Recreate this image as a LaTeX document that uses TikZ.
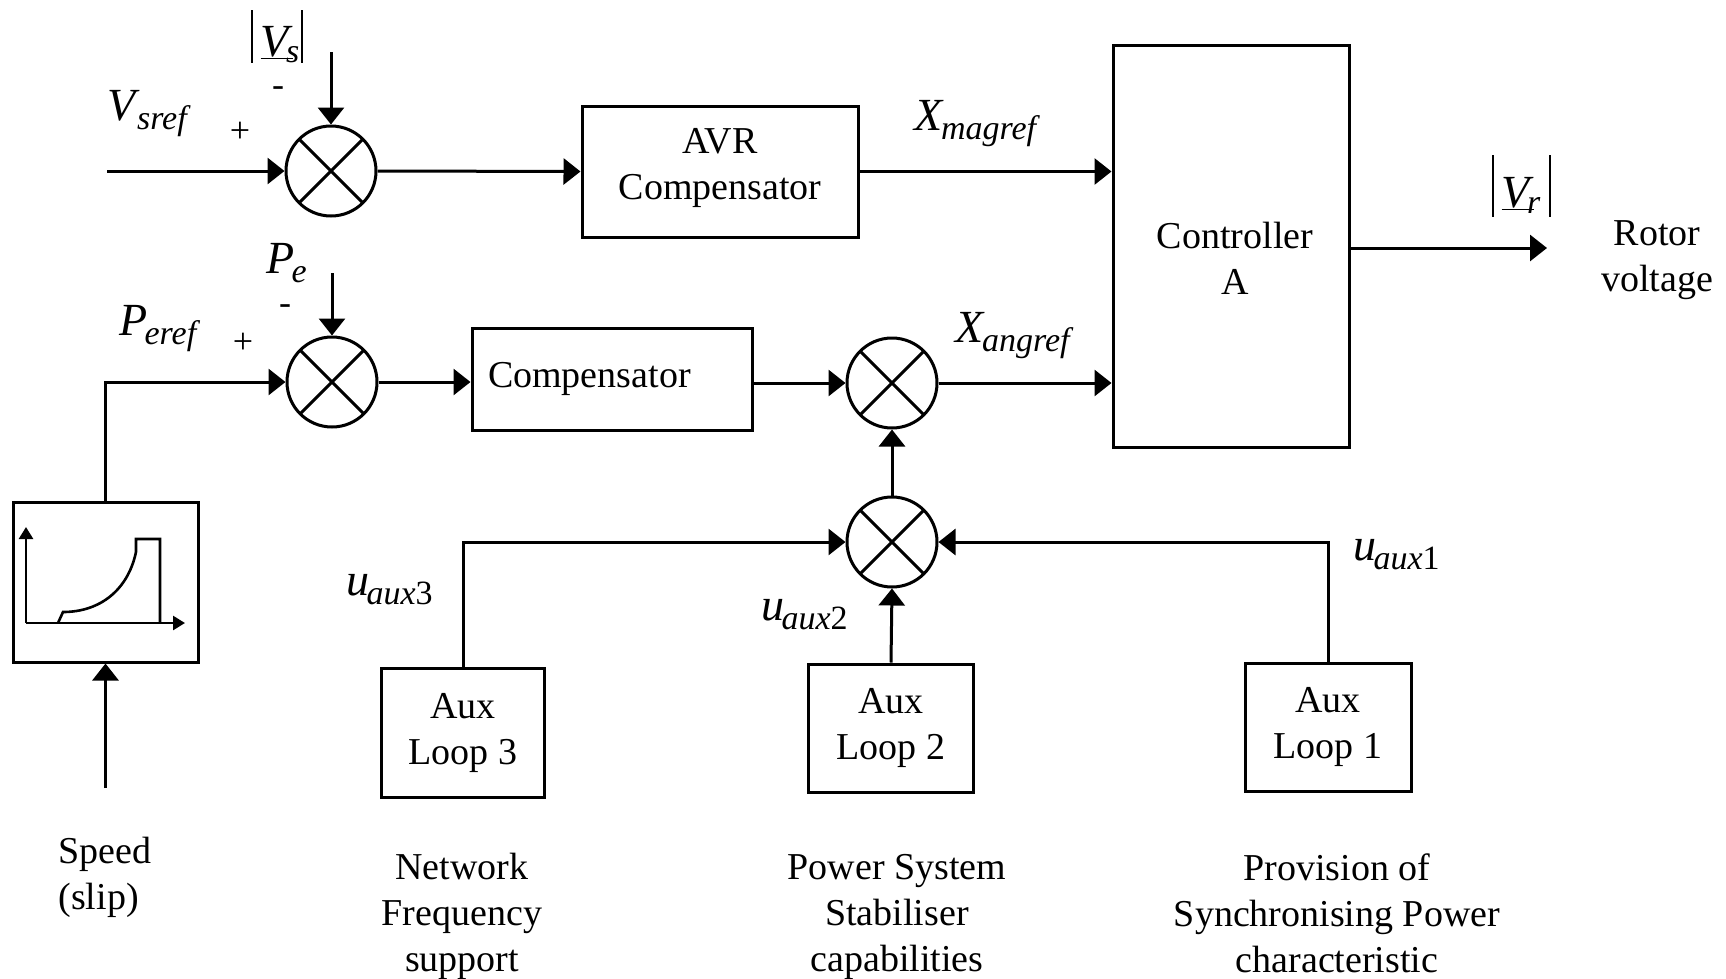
\documentclass[tikz,border=0pt]{standalone}
\usepackage{fontspec}
\setmainfont{Liberation Serif}
\usetikzlibrary{arrows.meta}
\newcommand{\sbs}[2]{{\fontsize{46}{50}\selectfont\textit{#1}}\kern-3pt\raisebox{-9pt}{\fontsize{34}{36}\selectfont\textit{#2}}}
\newcommand{\usbs}[2]{{\fontsize{46}{50}\selectfont\underline{\textit{#1}}}\kern-7pt\raisebox{-6pt}{\fontsize{34}{36}\selectfont\textit{#2}}}
\begin{document}
\begin{tikzpicture}[x=1pt,y=-1pt,
  line width=3pt,
  arr/.style={-{Triangle[length=17pt,width=26pt]}},
  axarr/.style={line width=2.6pt,-{Triangle[length=12pt,width=14pt]}},
  box/.style={draw, line width=3pt, font=\fontsize{38}{46}\selectfont, align=center, inner sep=0pt},
  txt/.style={font=\fontsize{38}{46}\selectfont, inner sep=0pt},
  sign/.style={font=\fontsize{36}{40}\selectfont, inner sep=0pt},
  lab/.style={anchor=base west, inner sep=0pt},
  bar/.style={line width=2.2pt},
  sum/.style={circle, draw, line width=3pt, minimum size=90pt, inner sep=0pt,
    path picture={\draw[line width=3pt] (path picture bounding box.north west) -- (path picture bounding box.south east)
      (path picture bounding box.north east) -- (path picture bounding box.south west);}}]
\useasboundingbox (0,0) rectangle (1726,978);

% summing junctions
\node[sum] (sum1) at (331,171) {};
\node[sum] (sum2) at (332,382) {};
\node[sum] (sum3) at (892,383) {};
\node[sum] (sum4) at (892,542) {};

% blocks
\node[draw, line width=3pt, minimum width=276pt, minimum height=131pt] (avr) at (720,171.5) {};
\node[txt, align=center, anchor=north] (avrtxt) at (720,127) {AVR\\Compensator};
\node[box, minimum width=280pt, minimum height=102pt, text width=248pt, align=left, inner xsep=16pt] (comp) at (612,379) {Compensator};
\node[draw, line width=3pt, minimum width=236pt, minimum height=402pt] (ctrl) at (1231,246) {};
\node[txt, align=center, anchor=north] (ctrltxt) at (1235,221) {Controller\\A};
\node[draw, line width=3pt, minimum width=185pt, minimum height=160pt] (speed) at (105.5,582) {};
\node[box, minimum width=163pt, minimum height=129pt] (aux3) at (463,732.5) {Aux\\Loop 3};
\node[box, minimum width=165pt, minimum height=128pt] (aux2) at (891,728) {Aux\\Loop 2};
\node[box, minimum width=166pt, minimum height=128pt] (aux1) at (1328,727) {Aux\\Loop 1};

% speed characteristic
\draw[axarr] (26,623) -- (26,527);
\draw[axarr] (26,623) -- (185,623);
\draw[line width=2.6pt] (58,623) -- (63,612) .. controls (100,612) and (128,590) .. (136,552) -- (136,539) -- (160,539) -- (160,623);

% free ends
\coordinate (vin) at (107,171);
\coordinate (vstop) at (331,52);
\coordinate (petop) at (332,273);
\coordinate (rout) at (1547,248);
\coordinate (spin) at (105.5,788);

% connectors
\draw[arr] (vin) -- (sum1.west);
\draw[arr] (vstop) -- (sum1.north);
\draw[arr] (sum1.east) -- (avr.west);
\draw[arr] (avr.east) -- (avr.east -| ctrl.west);
\draw[arr] (speed.north) |- (sum2.west);
\draw[arr] (petop) -- (sum2.north);
\draw[arr] (sum2.east) -- (sum2.east -| comp.west);
\draw[arr] (comp.east |- sum3.west) -- (sum3.west);
\draw[arr] (sum3.east) -- (sum3.east -| ctrl.west);
\draw[arr] (sum4.north) -- (sum3.south);
\draw[arr] (aux3.north) |- (sum4.west);
\draw[arr] (aux1.north) |- (sum4.east);
\draw[arr] (aux2.north) -- (sum4.south);
\draw[arr] (ctrl.east |- rout) -- (rout);
\draw[arr] (spin) -- (speed.south);

% signs
\node[sign] (p1) at (240,132) {+};
\node[sign] (m1) at (278,92) {-};
\node[sign] (p2) at (243,343) {+};
\node[sign] (m2) at (285,310) {-};

% signal labels
\node[lab] (lvsref) at (106,120) {\sbs{V}{sref}};
\node[lab] (lperef) at (118,335) {\sbs{P}{eref}};
\node[lab] (lpe) at (265,273) {\sbs{P}{e}};
\node[lab] (lxmag) at (913,130) {\sbs{X}{magref}};
\node[lab] (lxang) at (954,342) {\sbs{X}{angref}};
\node[lab] (lu3) at (345,595) {\sbs{u}{aux\textup{3}}};
\node[lab] (lu2) at (760,620) {\sbs{u}{aux\textup{2}}};
\node[lab] (lu1) at (1352,560) {\sbs{u}{aux\textup{1}}};
\node[lab] (lvs) at (259,56) {\usbs{V}{s}};
\draw[bar] (252,10) -- (252,63);
\draw[bar] (302,10) -- (302,63);
\node[lab] (lvr) at (1500,207) {\usbs{V}{r}};
\draw[bar] (1493,155) -- (1493,217);
\draw[bar] (1550,155) -- (1550,217);

% captions
\node[txt, align=center, anchor=north] (rv) at (1657,219) {Rotor\\voltage};
\node[txt, align=left, anchor=north west] (spd) at (57,836) {Speed\\(slip)};
\node[txt, align=center, anchor=north] (cap3) at (462,852) {Network\\Frequency\\support};
\node[txt, align=center, anchor=north] (cap2) at (897,853) {Power System\\Stabiliser\\capabilities};
\node[txt, align=center, anchor=north] (cap1) at (1337,852) {Provision of\\Synchronising Power\\characteristic};
\end{tikzpicture}
\end{document}
